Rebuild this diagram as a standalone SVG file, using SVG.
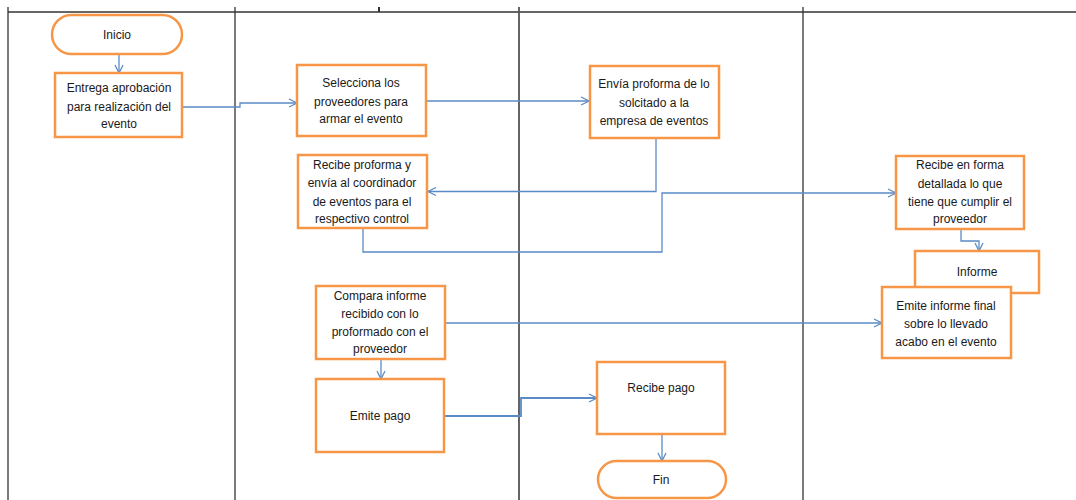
<svg xmlns="http://www.w3.org/2000/svg" width="1076" height="500" viewBox="0 0 1076 500">
<style>
.lane{stroke:#333;stroke-width:1.3;fill:none}
.box{fill:#fff;stroke:#f79646;stroke-width:2.5}
.term{fill:#fff;stroke:#f79646;stroke-width:2.5}
.t{font-family:"Liberation Sans",Arial,sans-serif;font-size:12px;fill:#1a1a1a;text-anchor:middle}
.c{fill:none;stroke:#5b8bc6;stroke-width:1.3}
</style>
<defs>
<marker id="ah" markerWidth="10" markerHeight="10" refX="9" refY="5" orient="auto" markerUnits="userSpaceOnUse">
<path d="M1,1 L9,5 L1,9" fill="none" stroke="#5b8bc6" stroke-width="1.3"/>
</marker>
</defs>
<rect width="1076" height="500" fill="#fff"/>
<g id="lanes">
<line class="lane" x1="8" y1="12" x2="1076" y2="12"/>
<line class="lane" x1="8" y1="7" x2="8" y2="500"/>
<line class="lane" x1="235" y1="7" x2="235" y2="500"/>
<line class="lane" x1="519" y1="7" x2="519" y2="500" style="stroke:#555;stroke-width:1.8"/>
<line class="lane" x1="803" y1="7" x2="803" y2="500"/>
<line class="lane" x1="379" y1="7" x2="379" y2="12" style="stroke-width:2"/>
</g>
<g id="connectors">
<path class="c" d="M119,54 V73" marker-end="url(#ah)"/>
<path class="c" d="M182,107 H240 V103 H297" marker-end="url(#ah)"/>
<path class="c" d="M426,101 H589" marker-end="url(#ah)"/>
<path class="c" d="M656,138 V191.5 H428" marker-end="url(#ah)"/>
<path class="c" d="M363,228 V252 H662 V193 H896" marker-end="url(#ah)"/>
<path class="c" d="M961,229 V241 H979 V251" marker-end="url(#ah)"/>
<path class="c" d="M445,323 H882" marker-end="url(#ah)"/>
<path class="c" d="M381,359 V379" marker-end="url(#ah)"/>
<path class="c" d="M444,416 H521 V398 H597" marker-end="url(#ah)" style="stroke-width:1.8"/>
<path class="c" d="M662,434 V461" marker-end="url(#ah)"/>
</g>
<g id="inicio">
<rect class="term" x="52" y="15" width="130" height="39" rx="19.5"/>
<text class="t" x="117" y="39">Inicio</text>
</g>
<g id="entrega">
<rect class="box" x="55" y="73" width="127" height="64"/>
<text class="t" x="119" y="92">Entrega aprobación</text>
<text class="t" x="119" y="111">para realización del</text>
<text class="t" x="119" y="128">evento</text>
</g>
<g id="selecciona">
<rect class="box" x="297" y="65" width="129" height="71"/>
<text class="t" x="361" y="87">Selecciona los</text>
<text class="t" x="361" y="106">proveedores para</text>
<text class="t" x="361" y="123">armar el evento</text>
</g>
<g id="envia">
<rect class="box" x="590" y="66" width="129" height="72"/>
<text class="t" x="654" y="88">Envía proforma de lo</text>
<text class="t" x="654" y="107">solcitado a la</text>
<text class="t" x="654" y="125">empresa de eventos</text>
</g>
<g id="recibe-proforma">
<rect class="box" x="298" y="155" width="129" height="73"/>
<text class="t" x="362" y="169">Recibe proforma y</text>
<text class="t" x="362" y="187">envía al coordinador</text>
<text class="t" x="362" y="206">de eventos para  el</text>
<text class="t" x="362" y="223">respectivo control</text>
</g>
<g id="recibe-detallada">
<rect class="box" x="896" y="156" width="128" height="73"/>
<text class="t" x="960" y="169">Recibe en forma</text>
<text class="t" x="960" y="188">detallada lo que</text>
<text class="t" x="960" y="206">tiene que cumplir el</text>
<text class="t" x="960" y="223">proveedor</text>
</g>
<g id="informe">
<rect class="box" x="915" y="251" width="124" height="42"/>
<text class="t" x="977" y="276">Informe</text>
</g>
<g id="emite-informe">
<rect class="box" x="882" y="287" width="129" height="71"/>
<text class="t" x="946" y="310">Emite informe final</text>
<text class="t" x="946" y="328">sobre lo llevado</text>
<text class="t" x="946" y="346">acabo en el evento</text>
</g>
<g id="compara">
<rect class="box" x="316" y="286" width="129" height="73"/>
<text class="t" x="380" y="300">Compara informe</text>
<text class="t" x="380" y="318">recibido con lo</text>
<text class="t" x="380" y="336">proformado con el</text>
<text class="t" x="380" y="353">proveedor</text>
</g>
<g id="emite-pago">
<rect class="box" x="316" y="379" width="128" height="73"/>
<text class="t" x="380" y="420">Emite pago</text>
</g>
<g id="recibe-pago">
<rect class="box" x="597" y="362" width="128" height="72"/>
<text class="t" x="661" y="392">Recibe pago</text>
</g>
<g id="fin">
<rect class="term" x="598" y="461" width="128" height="37" rx="18.5"/>
<text class="t" x="661" y="484">Fin</text>
</g>
</svg>
